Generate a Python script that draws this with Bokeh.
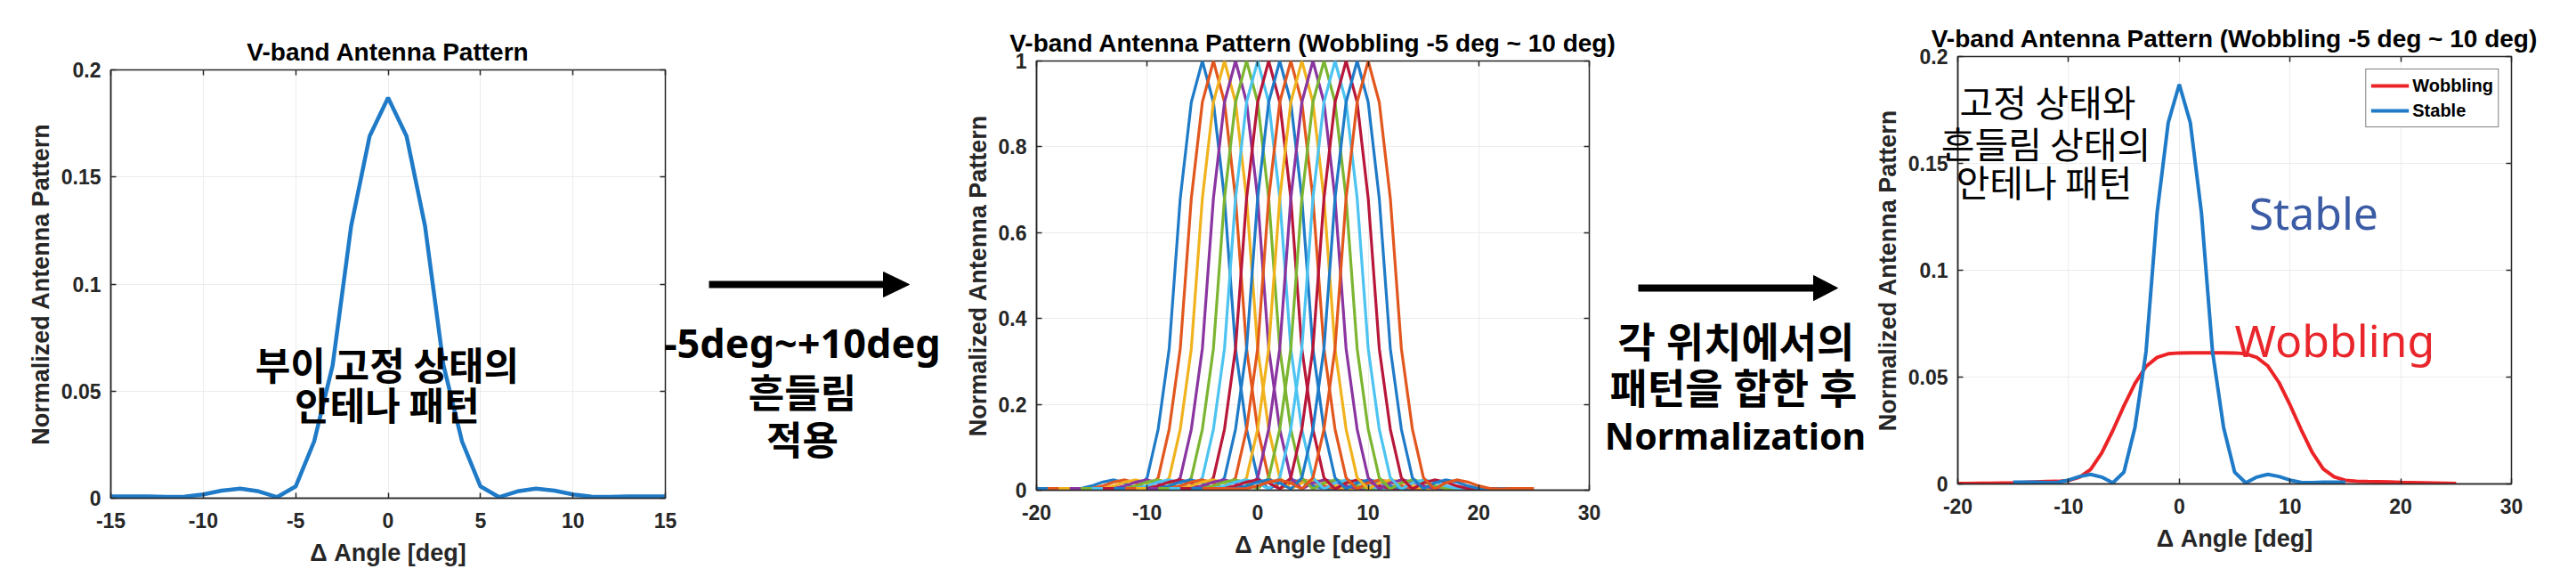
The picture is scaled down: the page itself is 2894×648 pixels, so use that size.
from bokeh.plotting import figure
from bokeh.models import (Range1d, FixedTicker, PrintfTickFormatter, LinearAxis, Label)
from bokeh.layouts import row, column
from bokeh.embed import file_html
from bokeh.resources import INLINE
from bokeh.core.properties import value

# ---------------- data ----------------
stable_angle = list(range(-15, 16))
stable_pattern = [0.0008, 0.0008, 0.0008, 0.0006, 0.0007, 0.0018, 0.0035, 0.0045,
                  0.0032, 0.0005, 0.0055, 0.0265, 0.062, 0.127, 0.169, 0.187,
                  0.169, 0.127, 0.062, 0.0265, 0.0055, 0.0005, 0.0032, 0.0045,
                  0.0035, 0.0018, 0.0007, 0.0006, 0.0008, 0.0008, 0.0008]

# peak-normalised pattern (middle panel), relative angle = stable_angle
norm_pattern = [0.004, 0.004, 0.004, 0.003, 0.004, 0.010, 0.019, 0.024,
                0.017, 0.003, 0.029, 0.142, 0.33, 0.68, 0.904, 1.0,
                0.904, 0.68, 0.33, 0.142, 0.029, 0.003, 0.017, 0.024,
                0.019, 0.010, 0.004, 0.003, 0.004, 0.004, 0.004]
wobble_offsets = list(range(-5, 11))

wobble_angle = list(range(-20, 26))
wobble_pattern = [0.0002, 0.0002, 0.0003, 0.0003, 0.0004, 0.0005, 0.0007, 0.0009,
                  0.0011, 0.0012, 0.0016, 0.0032, 0.0068, 0.0145, 0.0250, 0.0365,
                  0.0470, 0.0550, 0.0592, 0.0609, 0.0613, 0.0614, 0.0614, 0.0614,
                  0.0614, 0.0613, 0.0609, 0.0592, 0.0552, 0.0475, 0.0370, 0.0255,
                  0.0148, 0.0070, 0.0033, 0.0017, 0.0013, 0.0011, 0.0010, 0.0009,
                  0.0007, 0.0006, 0.0005, 0.0004, 0.0003, 0.0002]

x_ticks_1 = [-15, -10, -5, 0, 5, 10, 15]
y_ticks_1 = [0, 0.05, 0.1, 0.15, 0.2]
x_ticks_2 = [-20, -10, 0, 10, 20, 30]
y_ticks_2 = [0, 0.2, 0.4, 0.6, 0.8, 1.0]

title_1 = "V-band Antenna Pattern"
title_2 = "V-band Antenna Pattern (Wobbling -5 deg ~ 10 deg)"
x_label = "\u0394 Angle [deg]"
y_label = "Normalized Antenna Pattern"

note_1 = ["부이 고정 상태의", "안테나 패턴"]
note_3 = ["고정 상태와", "흔들림 상태의", "안테나 패턴"]
step_1 = ["-5deg~+10deg", "흔들림", "적용"]
step_2 = ["각 위치에서의", "패턴을 합한 후", "Normalization"]

matlab_colors = ["#1f7bc8", "#e2571e", "#f0b21d", "#8a35a0", "#7bb531", "#4cc3f0", "#b8173a"]
BLUE = "#1f7bc8"
RED = "#ec2326"
AX = "#262626"
FONT = "Liberation Sans"
KFONT = "Noto Sans CJK KR"
MIXFONT = "Noto Sans, Noto Sans CJK KR"
H = 648


def make_fig(width, xr, yr, title, xt, yt, mbl, mbr, mbt, mbb):
    p = figure(width=width, height=H, x_range=Range1d(*xr), y_range=Range1d(*yr),
               min_border_left=mbl, min_border_right=mbr, min_border_top=mbt,
               min_border_bottom=mbb, output_backend="svg", toolbar_location=None,
               title=title)
    p.title.align = "center"
    p.title.text_font = FONT
    p.title.text_font_size = "28px"
    p.title.text_font_style = "bold"
    p.title.text_color = "black"
    p.outline_line_color = AX
    p.outline_line_width = 1.5
    p.background_fill_color = "white"
    p.border_fill_alpha = 0
    p.xaxis.ticker = FixedTicker(ticks=xt)
    p.yaxis.ticker = FixedTicker(ticks=yt)
    for ax in (p.xaxis[0], p.yaxis[0]):
        ax.formatter = PrintfTickFormatter(format="%g")
        ax.major_tick_in = 6
        ax.major_tick_out = 0
        ax.minor_tick_line_color = None
        ax.axis_line_color = AX
        ax.axis_line_width = 1.5
        ax.major_tick_line_color = AX
        ax.major_tick_line_width = 1.5
        ax.major_label_text_font = FONT
        ax.major_label_text_font_size = "23px"
        ax.major_label_text_font_style = "bold"
        ax.major_label_text_color = AX
        ax.axis_label_text_font = FONT
        ax.axis_label_text_font_size = "27px"
        ax.axis_label_text_font_style = "bold"
        ax.axis_label_text_color = AX
    p.xaxis.major_label_standoff = 16
    p.xaxis.axis_label_standoff = 10
    p.yaxis.major_label_standoff = 11
    p.yaxis.axis_label_standoff = 5
    p.xaxis.axis_label = x_label
    p.yaxis.axis_label = y_label
    # box-style ticks on top and right (no labels drawn)
    for side, ticks in (("above", xt), ("right", yt)):
        ax = LinearAxis(ticker=FixedTicker(ticks=ticks), major_label_text_font_size="1px",
                        major_label_text_color=None, major_label_standoff=0,
                        major_tick_in=6, major_tick_out=0,
                        minor_tick_line_color=None, axis_line_color=None,
                        major_tick_line_color=AX, major_tick_line_width=1.5)
        p.add_layout(ax, side)
    p.grid.grid_line_color = "#ececec"
    p.grid.grid_line_width = 1
    return p


def make_overlay(width, x0, x1):
    # transparent canvas in page pixel coordinates, for arrows and free captions
    g = figure(width=width, height=H, x_range=Range1d(x0, x1), y_range=Range1d(543, 78),
               min_border_left=0, min_border_right=0, min_border_top=78,
               min_border_bottom=H - 543, output_backend="svg", toolbar_location=None,
               x_axis_location=None, y_axis_location=None)
    g.outline_line_color = None
    g.background_fill_alpha = 0
    g.border_fill_alpha = 0
    for gr in g.grid:
        gr.visible = False
    return g


def add_arrow(g, xs, xh, xt, y, half):
    g.segment(x0=[xs], y0=[y], x1=[xh + 2], y1=[y], line_color="black", line_width=8)
    g.patch(x=[xh, xt, xh], y=[y - half, y, y + half], fill_color="black", line_color="black")


def add_lines(g, lines, xs, ys, sizes, style="bold", font=MIXFONT):
    for t, x, y, s in zip(lines, xs, ys, sizes):
        g.text(x=[x], y=[y], text=[t], text_align="center", text_baseline="middle",
               text_font=value(font), text_font_size=value(s), text_font_style=style,
               text_color="black")


# ---------------- panel 1 ----------------
p1 = make_fig(760, (-15, 15), (0, 0.2), title_1, x_ticks_1, y_ticks_1, 124, 13, 78, 89)
p1.line(stable_angle, stable_pattern, line_color=BLUE, line_width=4.5)
for t, y in zip(note_1, [0.0628, 0.0441]):
    p1.add_layout(Label(x=-0.05, y=y, text=t, text_align="center", text_baseline="middle",
                        text_font=KFONT, text_font_size="43px", text_font_style="bold",
                        text_color="black"))

# ---------------- step 1 (arrow + caption), overlapping the right edge of panel 1 ----------------
g1 = make_overlay(340, 740, 1080)
add_arrow(g1, 796, 992, 1021, 319, 14)
add_lines(g1, step_1, [901, 901, 901], [384, 440, 493], ["45px", "44px", "44px"])

# ---------------- panel 2 ----------------
p2 = make_fig(750, (-20, 30), (0, 1), title_2, x_ticks_2, y_ticks_2, 84, 45, 68, 98)
for i, off in enumerate(wobble_offsets):
    xs = [a + off for a in stable_angle]
    p2.line(xs, norm_pattern, line_color=matlab_colors[i % len(matlab_colors)], line_width=3.2)

# ---------------- step 2 (arrow + caption), overlapping the right edge of panel 2 ----------------
g2 = make_overlay(293, 1802, 2095)
add_arrow(g2, 1840, 2037, 2064, 323, 14)
add_lines(g2, step_2, [1950, 1947, 1949], [382, 434, 488], ["46px", "46px", "41px"])

# ---------------- panel 3 ----------------
p3 = make_fig(783, (-20, 30), (0, 0.2), title_2, x_ticks_2, y_ticks_1, 104, 57, 63, 105)
p3.line(wobble_angle, wobble_pattern, line_color=RED, line_width=4, legend_label="Wobbling")
p3.line(stable_angle, stable_pattern, line_color=BLUE, line_width=4, legend_label="Stable")
lg = p3.legend[0]
lg.location = "top_right"
lg.margin = 14
lg.padding = 5
lg.spacing = 2
lg.glyph_width = 43
lg.glyph_height = 26
lg.label_height = 26
lg.label_standoff = 4
lg.label_text_font = FONT
lg.label_text_font_size = "20px"
lg.label_text_font_style = "bold"
lg.label_text_color = "black"
lg.border_line_color = "black"
lg.border_line_width = 1.5
lg.background_fill_color = "white"
lg.background_fill_alpha = 1

p3.add_layout(Label(x=6.3, y=0.1267, text="Stable", text_align="left",
                    text_baseline="middle", text_font="Noto Sans",
                    text_font_size="50px", text_color="#3b5ba5"))
p3.add_layout(Label(x=5.0, y=0.0675, text="Wobbling", text_align="left",
                    text_baseline="middle", text_font="Noto Sans",
                    text_font_size="50px", text_color="#e8262b"))

# caption of panel 3 (runs over the y axis, as in the reference) on a transparent overlay
g3 = make_overlay(270, 2170, 2440)
add_lines(g3, note_3, [2300, 2298, 2296], [112, 159, 202], ["41px", "41px", "41px"],
          style="normal", font=KFONT)

layout = row(column(p1), column(g1, margin=(0, 0, 0, -20)), column(p2),
             column(g2, margin=(0, 0, 0, -28)), column(p3),
             column(g3, margin=(0, 0, 0, -708)))
open("out.html", "w").write(file_html(layout, INLINE))
